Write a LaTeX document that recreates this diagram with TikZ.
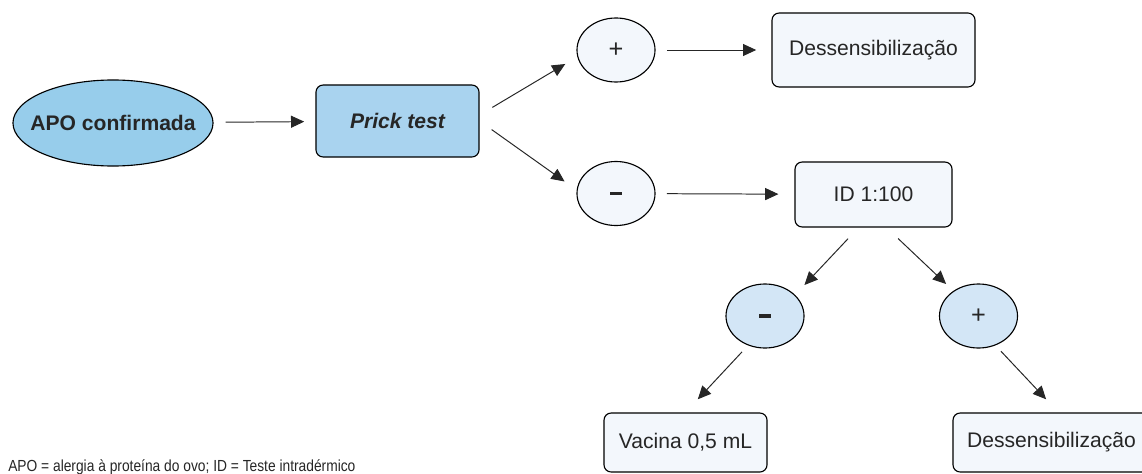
\documentclass[tikz,border=0pt]{standalone}
\usepackage{fontspec}
\setmainfont{Liberation Sans}
\newfontfamily\notefont[FakeStretch=0.86]{Liberation Sans}
\usepackage{tikz}
\usepackage{xcolor}
\usetikzlibrary{shapes, shapes.geometric, arrows.meta, calc, positioning}
\definecolor{apoblue}{HTML}{97CDEB}
\definecolor{prickblue}{HTML}{A9D3EF}
\definecolor{paleblue}{HTML}{F3F7FC}
\definecolor{signblue}{HTML}{D3E6F6}
\newcommand{\negsign}{\rule{0.3cm}{0.09cm}}
\newcommand{\possign}{{\fontsize{18}{20}\selectfont +}}

\begin{document}
\begin{tikzpicture}[x=0.025cm, y=-0.025cm,
        txt/.style={font=\fontsize{15}{18}\selectfont, inner sep=0pt, text=black!85},
        oval/.style={txt, draw, ellipse, line width=0.8pt, minimum width=1.95cm, minimum height=1.6cm},
        box/.style={txt, draw, rectangle, rounded corners=0.18cm, line width=0.8pt, fill=paleblue},
        arr/.style={-{Triangle[length=0.33cm, width=0.3cm]}, line width=0.7pt, black!85}]
        \useasboundingbox (0,0) rectangle (1142,473);

        \node[oval, fill=apoblue, minimum width=5cm, minimum height=2.15cm, inner xsep=-0.3cm, font=\fontsize{15}{18}\selectfont\bfseries] (apo) at (113,123) {APO confirmada};
        \node[box, fill=prickblue, minimum width=4.075cm, minimum height=1.8cm, font=\fontsize{15}{18}\selectfont\bfseries\itshape] (prick) at (397.5,121) {Prick test};
        \node[oval, fill=paleblue] (pos1) at (616,50) {\possign};
        \node[oval, fill=paleblue] (neg1) at (616,193.5) {\negsign};
        \node[box, minimum width=5.075cm, minimum height=1.85cm] (dess1) at (873.5,50) {Dessensibilização};
        \node[box, minimum width=3.925cm, minimum height=1.625cm] (id) at (873.5,194.5) {ID 1:100};
        \node[oval, fill=signblue] (neg2) at (765,316) {\negsign};
        \node[oval, fill=signblue] (pos2) at (978.5,316) {\possign};
        \node[box, minimum width=4.075cm, minimum height=1.475cm] (vac) at (685.5,442.5) {Vacina 0,5 mL};
        \node[box, minimum width=4.925cm, minimum height=1.475cm] (dess2) at (1051.5,442.5) {Dessensibilização};
        \node[anchor=base west, inner sep=0pt, font=\notefont\fontsize{11.4}{13}\selectfont, text=black!85] (note) at (8,471) {APO = alergia à proteína do ovo; ID = Teste intradérmico};

        \draw [arr, shorten <=0.3cm, shorten >=0.28cm] (apo) -- (prick);
        \draw [arr, shorten <=0.37cm, shorten >=0.35cm] ($(prick.east)+(0,-6)$) -- (pos1.190);
        \draw [arr, shorten <=0.37cm, shorten >=0.37cm] (prick.east) -- (neg1.175);
        \draw [arr, shorten <=0.28cm, shorten >=0.38cm] (pos1) -- (dess1);
        \draw [arr, shorten <=0.28cm, shorten >=0.4cm] (neg1) -- (id);
        \draw [arr, shorten <=0.38cm, shorten >=0.34cm] ($(id.south)+(-15,0)$) -- (neg2.35);
        \draw [arr, shorten <=0.4cm, shorten >=0.25cm] ($(id.south)+(13,0)$) -- (pos2.135);
        \draw [arr, shorten <=0.22cm, shorten >=0.45cm] (neg2.240) -- (vac.north);
        \draw [arr, shorten <=0.2cm, shorten >=0.45cm] (pos2.300) -- ($(dess2.north)+(7,0)$);
\end{tikzpicture}
\end{document}
